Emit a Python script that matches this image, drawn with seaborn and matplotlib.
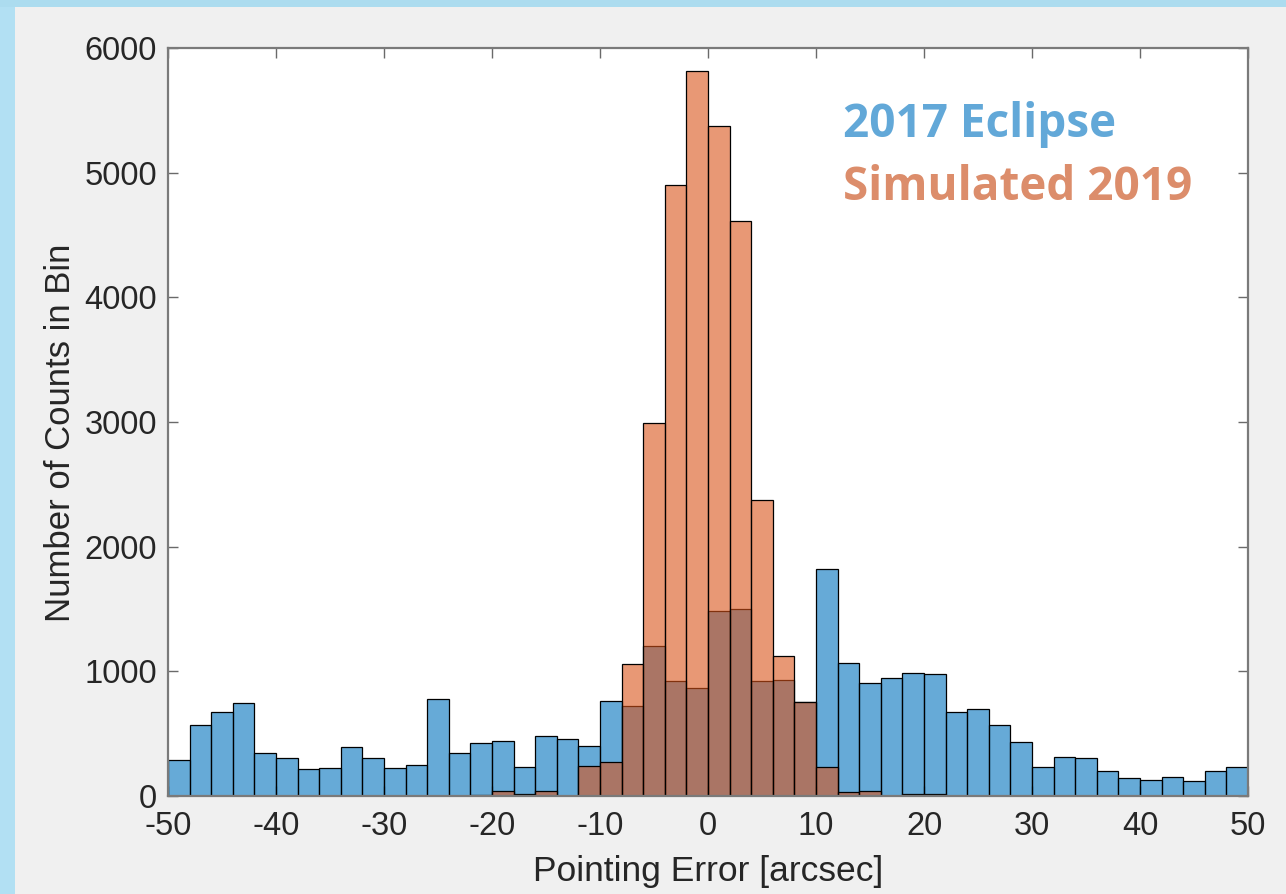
import numpy as np
import pandas as pd
import matplotlib
matplotlib.use("Agg")
import matplotlib.pyplot as plt
from matplotlib.patches import Rectangle
import seaborn as sns

# Histogram bins: 2-arcsec wide over [-50, 50]
bin_width = 2
bin_range = (-50, 50)
bin_centers = np.arange(bin_range[0] + bin_width / 2, bin_range[1], bin_width)

# Counts per 2-arcsec bin, 2017 eclipse pointing error
eclipse_2017 = [
    290, 572, 676, 748, 347, 302, 214, 222, 395, 302,
    222, 246, 778, 342, 428, 439, 230, 484, 455, 404,
    763, 718, 1206, 922, 864, 1482, 1501, 922, 934, 757,
    1820, 1069, 904, 946, 984, 976, 674, 698, 572, 436,
    230, 316, 308, 198, 142, 126, 150, 118, 198, 230,
]

# Counts per 2-arcsec bin, simulated 2019 pointing error
simulated_2019 = [
    0, 0, 0, 0, 0, 0, 0, 0, 0, 0,
    0, 0, 0, 0, 12, 40, 20, 40, 0, 238,
    276, 1060, 2995, 4905, 5815, 5375, 4610, 2372, 1120, 757,
    232, 32, 42, 0, 16, 14, 0, 0, 0, 0,
    0, 0, 0, 0, 0, 0, 0, 0, 0, 0,
]

series_names = ["2017 Eclipse", "Simulated 2019"]
x_ticks = list(range(-50, 51, 10))
y_ticks = list(range(0, 6001, 1000))

blue = (0.0, 0.447, 0.741)
orange = (0.85, 0.325, 0.098)

df_2017 = pd.DataFrame({"error": bin_centers, "count": eclipse_2017})
df_2019 = pd.DataFrame({"error": bin_centers, "count": simulated_2019})

sns.set_style("ticks")
plt.rcParams["font.family"] = ["Liberation Sans", "DejaVu Sans"]

fig = plt.figure(figsize=(12.86, 8.94), dpi=100)
fig.patch.set_facecolor("#f0f0f0")

# light blue slide frame along the top and left edges
fig.patches.append(Rectangle((0, 0), 15 / 1286, 1, transform=fig.transFigure,
                             facecolor="#b2e0f3", edgecolor="none", zorder=-10))
fig.patches.append(Rectangle((0, 1 - 7 / 894), 1, 7 / 894, transform=fig.transFigure,
                             facecolor="#acdcef", edgecolor="none", zorder=-10))

ax = fig.add_axes([168 / 1286, 1 - 796 / 894, 1080 / 1286, 748 / 894])
ax.set_facecolor("white")

sns.histplot(data=df_2017, x="error", weights="count", binwidth=bin_width,
             binrange=bin_range, ax=ax, color=blue, alpha=0.6,
             edgecolor="black", linewidth=0.9)
sns.histplot(data=df_2019, x="error", weights="count", binwidth=bin_width,
             binrange=bin_range, ax=ax, color=orange, alpha=0.6,
             edgecolor="black", linewidth=0.9)

ax.set_xlim(-50, 50)
ax.set_ylim(0, 6000)
ax.set_xticks(x_ticks)
ax.set_yticks(y_ticks)
ax.set_xticklabels([str(t) for t in x_ticks])
ax.set_yticklabels([str(t) for t in y_ticks])

for side in ["left", "right", "top", "bottom"]:
    ax.spines[side].set_visible(True)
    ax.spines[side].set_color("#7a7a7a")
    ax.spines[side].set_linewidth(1.6)

ax.tick_params(axis="both", which="major", direction="in", length=7, width=1.0,
               color="#6a6a6a", labelcolor="#262626", labelsize=23.5,
               top=True, right=True)
ax.tick_params(axis="x", pad=11)
ax.tick_params(axis="y", pad=8)

ax.set_xlabel("Pointing Error [arcsec]", fontsize=25.5, color="#262626", labelpad=9)
ax.set_ylabel("Number of Counts in Bin", fontsize=25, color="#262626")
ax.yaxis.set_label_coords(-0.084, 0.485)

ax.text(0.625, 0.881, series_names[0], transform=ax.transAxes, ha="left",
        va="baseline", fontsize=33, fontweight="bold",
        family=["Open Sans", "DejaVu Sans"], color="#62a8d8")
ax.text(0.625, 0.797, series_names[1], transform=ax.transAxes, ha="left",
        va="baseline", fontsize=33, fontweight="bold",
        family=["Open Sans", "DejaVu Sans"], color="#dc8d6b")

fig.savefig("out.png", dpi=100, facecolor=fig.get_facecolor())
